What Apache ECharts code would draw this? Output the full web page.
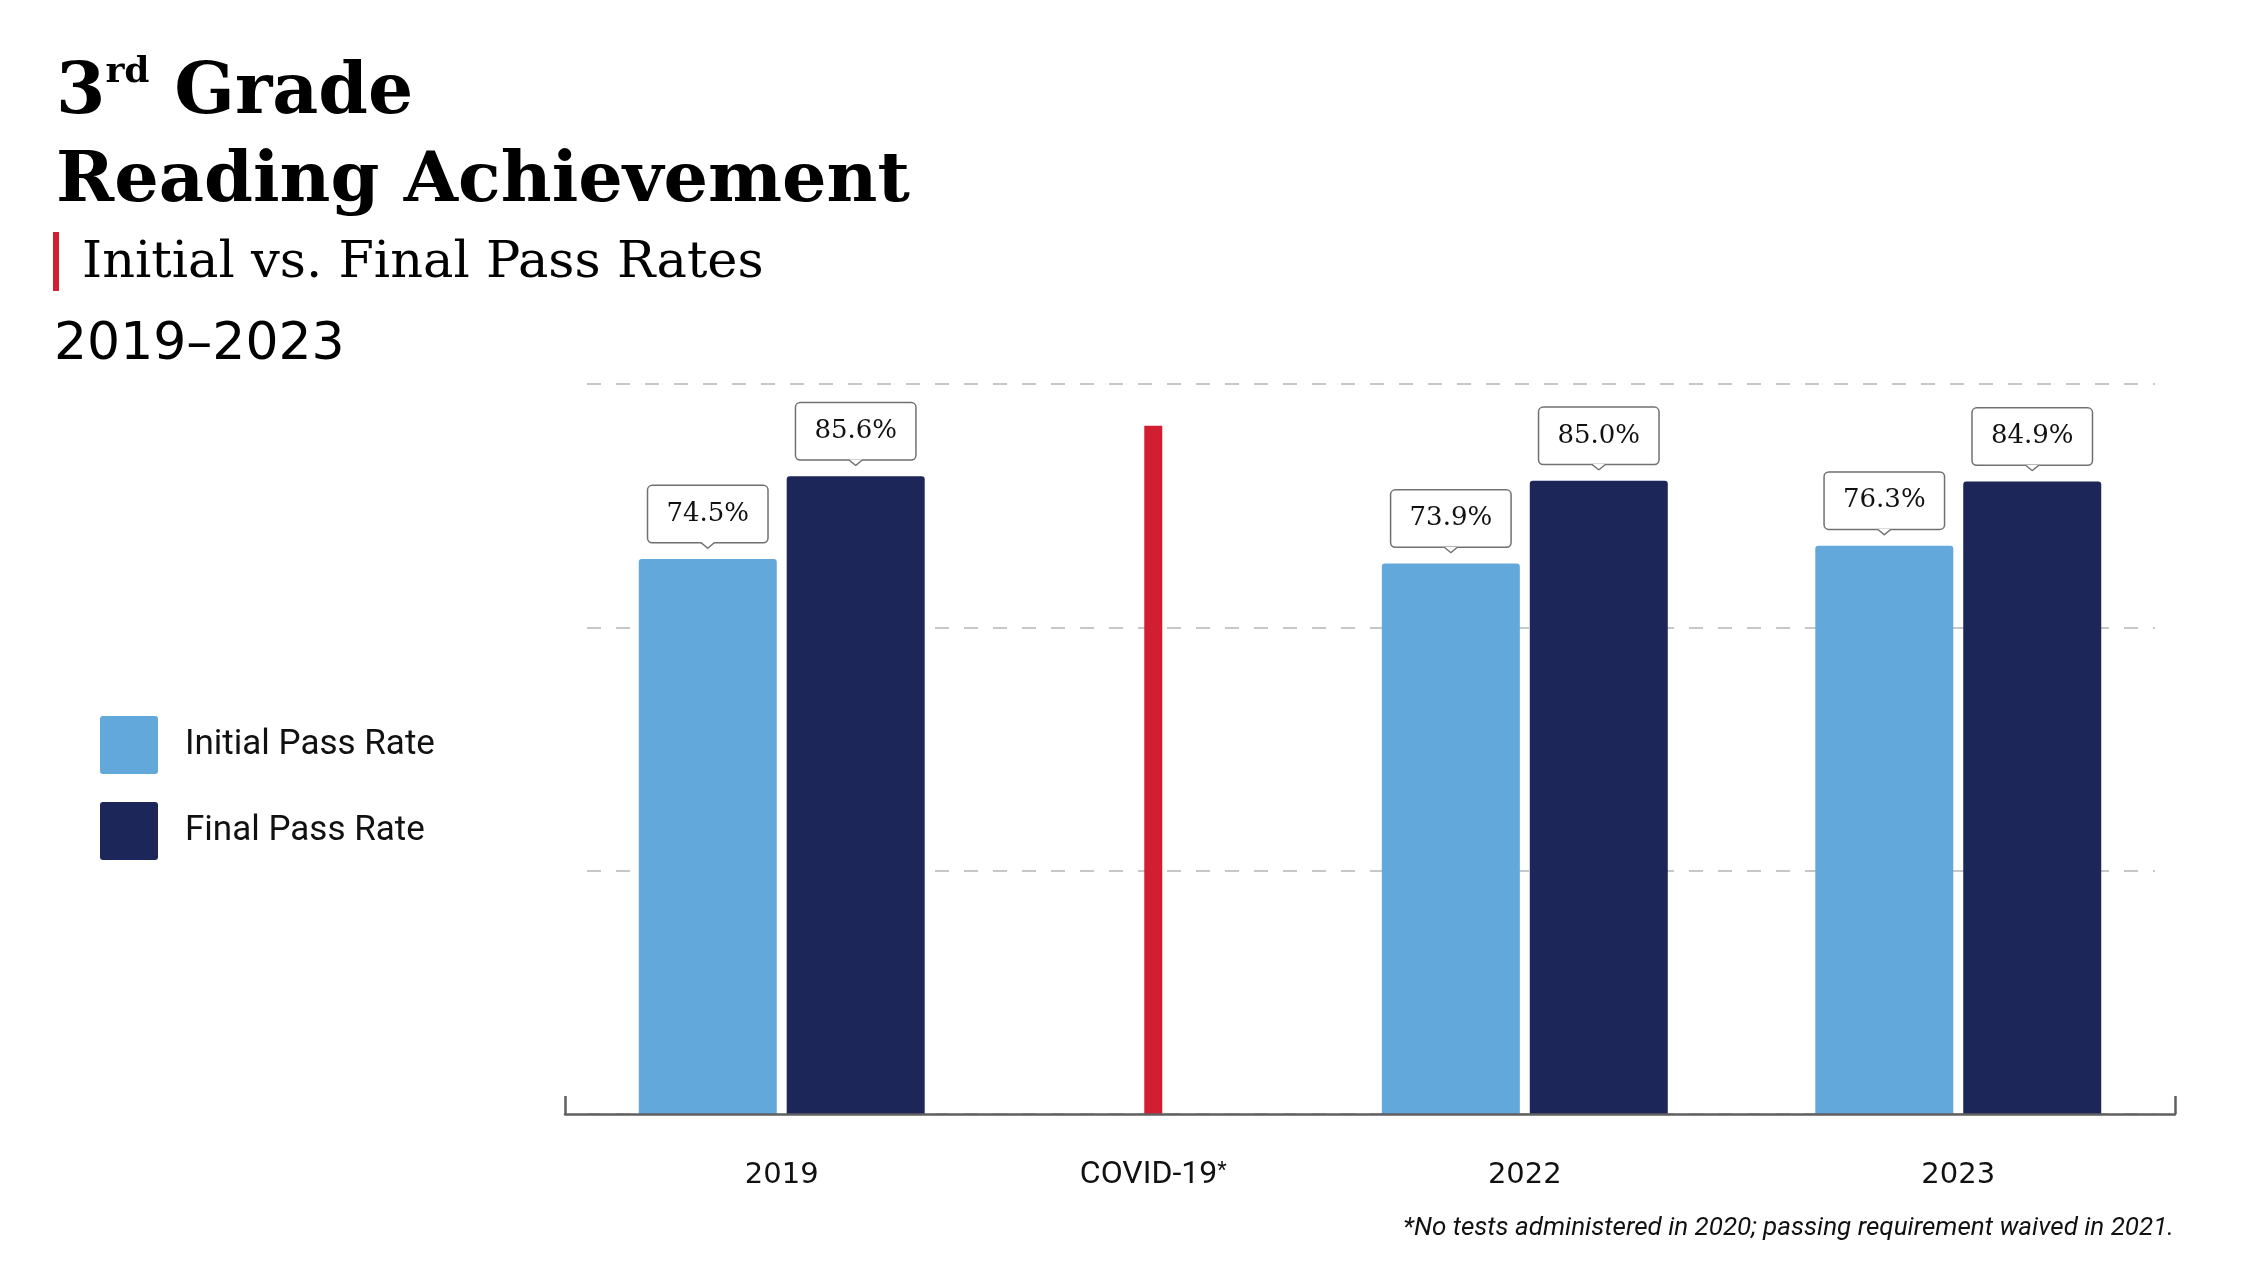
<!DOCTYPE html>
<html>
<head>
<meta charset="utf-8">
<script src="https://cdn.jsdelivr.net/npm/echarts@6/dist/echarts.min.js"></script>
<style>
  html, body { margin: 0; padding: 0; background: #ffffff; }
  #chart { width: 2250px; height: 1264px; }
</style>
</head>
<body>
<div id="chart"></div>
<script>
// ---- data ----
const categories = ['2019', 'COVID-19*', '2022', '2023'];
const initialPassRate = [74.5, null, 73.9, 76.3];
const finalPassRate = [85.6, null, 85.0, 84.9];
const covidMarker = [null, 92.4, null, null];
const seriesNames = ['Initial Pass Rate', 'Final Pass Rate'];
const footnote = '*No tests administered in 2020; passing requirement waived in 2021.';
const Y_MAX = 98;

// ---- layout: categories sit in slots of a finer band axis so spacing matches the original ----
const SLOT_COUNT = 26;
const SLOT_OF = [3, 9, 15, 22];
function toSlots(arr, blank) {
  const out = new Array(SLOT_COUNT).fill(blank);
  SLOT_OF.forEach((s, i) => { out[s] = arr[i]; });
  return out;
}
const slotCategories = toSlots(categories, '');

const arrowSvg = '<svg xmlns="http://www.w3.org/2000/svg" width="16" height="8" viewBox="0 0 16 8">' +
  '<polygon points="0,0 8,7.4 16,0" fill="#ffffff"/>' +
  '<polyline points="0.6,0 8,7 15.4,0" fill="none" stroke="#6f6f6f" stroke-width="1.5"/></svg>';
const arrowUri = 'data:image/svg+xml;charset=utf-8,' + encodeURIComponent(arrowSvg);

const calloutLabel = {
  show: true,
  position: 'top',
  distance: 10,
  formatter: p => (p.value == null ? '' : '{box|' + p.value.toFixed(1) + '%}\n{arr| }'),
  rich: {
    box: {
      fontFamily: 'DejaVu Serif',
      fontSize: 26,
      color: '#111111',
      width: 119,
      height: 56,
      lineHeight: 56,
      backgroundColor: '#ffffff',
      borderColor: '#707070',
      borderWidth: 1.5,
      borderRadius: 4,
      align: 'center'
    },
    arr: {
      width: 16,
      height: 7,
      lineHeight: 7,
      fontSize: 1,
      backgroundColor: { image: arrowUri },
      align: 'center'
    }
  }
};

const chart = echarts.init(document.getElementById('chart'), null, { renderer: 'canvas' });

const option = {
  backgroundColor: '#ffffff',
  animation: false,
  title: [
    {
      text: '{n|3}{s|rd}{n| Grade}',
      left: 56, top: 55, padding: 0,
      textStyle: {
        rich: {
          n: { fontFamily: 'DejaVu Serif', fontWeight: 'bold', fontSize: 71, lineHeight: 80, color: '#000000' },
          s: { fontFamily: 'DejaVu Serif', fontWeight: 'bold', fontSize: 36, lineHeight: 40, verticalAlign: 'top', color: '#000000' }
        }
      }
    },
    {
      text: 'Reading Achievement',
      left: 56, top: 143, padding: 0,
      textStyle: { fontFamily: 'DejaVu Serif', fontWeight: 'bold', fontSize: 70, lineHeight: 80, color: '#000000' }
    },
    {
      text: '{bar| }{t|Initial vs. Final Pass Rates}',
      left: 53, top: 232, padding: 0,
      textStyle: {
        rich: {
          bar: { width: 6, height: 59, lineHeight: 59, backgroundColor: '#D21E32', fontSize: 1 },
          t: { fontFamily: 'DejaVu Serif', fontWeight: 'normal', fontSize: 51, lineHeight: 59, color: '#000000', padding: [4, 0, 0, 23] }
        }
      }
    },
    {
      text: '2019–2023',
      left: 54, top: 320, padding: 0,
      textStyle: { fontFamily: 'DejaVu Sans', fontSize: 52, lineHeight: 50, color: '#000000', fontWeight: 'normal' }
    },
    {
      text: footnote,
      right: 76, top: 1214, padding: 0,
      textStyle: { fontFamily: 'Roboto', fontStyle: 'italic', fontSize: 26, lineHeight: 28, color: '#111111', fontWeight: 'normal' }
    }
  ],
  legend: {
    data: seriesNames,
    orient: 'vertical',
    left: 100,
    top: 716,
    padding: 0,
    itemWidth: 58,
    itemHeight: 58,
    itemGap: 28,
    icon: 'path://M3,0H55Q58,0 58,3V55Q58,58 55,58H3Q0,58 0,55V3Q0,0 3,0Z',
    selectedMode: false,
    textStyle: { fontFamily: 'Roboto', fontSize: 35, color: '#111111', padding: [0, 0, 0, 22] }
  },
  grid: [
    { left: 565, right: 75, top: 384, bottom: 150, containLabel: false },
    { left: 587, right: 95, top: 384, bottom: 150, containLabel: false }
  ],
  xAxis: [
    {
      type: 'category',
      gridIndex: 0,
      data: slotCategories,
      boundaryGap: true,
      z: 5,
      axisLine: { show: true, lineStyle: { color: '#606060', width: 2.5 } },
      axisTick: { show: true, inside: true, length: 18, interval: (i) => i === 0, lineStyle: { color: '#606060', width: 2.5 } },
      axisLabel: {
        interval: 0,
        margin: 46,
        formatter: v => (v === '' ? '' : (v.indexOf('COVID') === 0 ? '{cv|' + v.replace('*', '') + '}{sup|*}' : '{yr|' + v + '}')),
        rich: {
          yr: { fontFamily: 'DejaVu Sans', fontSize: 29, lineHeight: 30, color: '#111111' },
          cv: { fontFamily: 'Roboto', fontSize: 32, lineHeight: 30, color: '#111111' },
          sup: { fontFamily: 'Roboto', fontSize: 22, lineHeight: 18, verticalAlign: 'top', color: '#111111' }
        }
      },
      splitLine: { show: false }
    },
    {
      type: 'category',
      gridIndex: 0,
      data: slotCategories,
      show: false,
      boundaryGap: true
    },
    {
      type: 'value',
      gridIndex: 1,
      min: 0,
      max: 1,
      show: false
    }
  ],
  yAxis: [
    {
      type: 'value',
      gridIndex: 0,
      min: 0,
      max: Y_MAX,
      interval: Y_MAX / 3,
      axisLine: { show: false },
      axisTick: { show: false },
      axisLabel: { show: false },
      splitLine: { show: false }
    },
    {
      type: 'value',
      gridIndex: 1,
      min: 0,
      max: Y_MAX,
      interval: Y_MAX / 3,
      axisLine: { show: false },
      axisTick: { show: false },
      axisLabel: { show: false },
      splitLine: { show: true, lineStyle: { color: '#b5b5b5', width: 1.5, type: [14, 15] } }
    }
  ],
  series: [
    {
      name: seriesNames[0],
      type: 'bar',
      xAxisIndex: 0,
      yAxisIndex: 0,
      data: toSlots(initialPassRate, null),
      barWidth: 138,
      barGap: '7.2%',
      itemStyle: { color: '#62A8DB', borderRadius: [3, 3, 0, 0] },
      label: calloutLabel,
      z: 3
    },
    {
      name: seriesNames[1],
      type: 'bar',
      xAxisIndex: 0,
      yAxisIndex: 0,
      data: toSlots(finalPassRate, null),
      barWidth: 138,
      barGap: '7.2%',
      itemStyle: { color: '#1C2658', borderRadius: [3, 3, 0, 0] },
      label: calloutLabel,
      z: 3
    },
    {
      name: 'COVID-19',
      type: 'bar',
      xAxisIndex: 1,
      yAxisIndex: 0,
      data: toSlots(covidMarker, null),
      barWidth: 18,
      itemStyle: { color: '#D21E32' },
      z: 3
    }
  ]
};

chart.setOption(option);
</script>
</body>
</html>
